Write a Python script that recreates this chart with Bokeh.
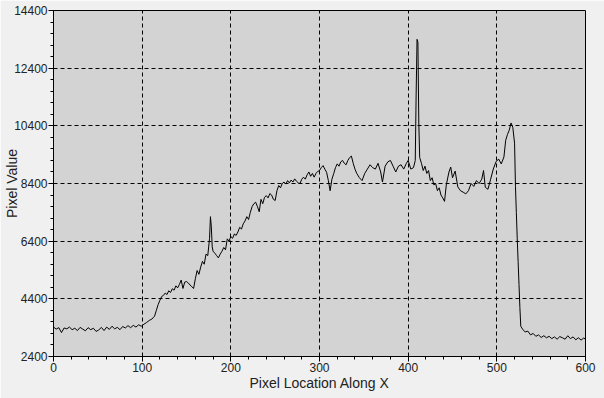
from bokeh.plotting import figure
from bokeh.models import FixedTicker
from bokeh.embed import file_html
from bokeh.resources import INLINE

# Pixel profile along X
pixel_x = [
    0, 3, 6, 9, 12, 15, 18, 21, 24, 27, 30, 33, 36, 39, 42, 45, 48, 51, 54, 57,
    60, 63, 66, 69, 72, 75, 78, 81, 84, 87, 90, 93, 96, 99,
    102, 105, 108, 111, 114, 116, 118,
    120, 122, 124, 126, 128, 130, 132, 134, 136, 138, 140, 142, 144, 146, 148, 150,
    152, 154, 156, 158, 160, 162, 164, 166, 168, 170, 172, 174, 176, 177, 178, 179,
    180, 182, 184, 186, 188, 190, 192, 194, 196, 198, 200, 202, 204, 206, 208, 210,
    212, 214, 216, 218, 220, 222, 224, 226, 228, 230, 232, 234, 236, 238, 240, 242,
    244, 246, 248, 250, 252, 254, 256, 258, 260, 262, 264, 266, 268, 270, 272, 274,
    276, 278, 280, 282, 284, 286, 288, 290, 292, 294, 296, 298, 300, 302, 304, 306,
    308, 310, 312, 314, 316, 318, 320, 322, 324, 326, 328, 330, 332, 334, 336, 338,
    340,
    342, 345, 348, 351, 354, 357, 360, 363, 366, 369, 371, 374, 377, 380, 383, 386,
    389, 392, 395, 398, 400, 403, 406, 408,
    409, 410, 411, 412, 413,
    415, 417, 419, 421, 423, 425, 427, 429, 431, 433, 435, 437, 439, 441,
    443, 446, 448, 450, 453, 456, 459, 462, 465, 468, 471, 474, 477, 480, 483, 485,
    487, 490, 493, 496, 499, 502, 505, 508, 510, 512, 514, 516, 518, 520, 521, 522,
    523, 524, 525, 526, 527, 529, 532, 535, 538, 541, 544, 547, 550, 553, 556, 559,
    562, 565, 568, 571, 574, 577, 580, 583, 586, 589, 592, 595, 598, 600,
]
pixel_value = [
    3420, 3350, 3400, 3230, 3390, 3360, 3420, 3330, 3380, 3300, 3410, 3350, 3290, 3400, 3330, 3380, 3270, 3320, 3410, 3300,
    3420, 3340, 3450, 3360, 3410, 3330, 3440, 3390, 3470, 3400, 3480, 3420, 3500, 3450,
    3520, 3580, 3650, 3700, 3800, 4000, 4200,
    4350, 4480, 4520, 4600, 4550, 4680, 4620, 4750, 4700, 4850, 4780, 4900, 5050, 4760, 4980, 5000,
    4950, 4880, 4820, 4760, 5100, 5380, 5250, 5500, 5700, 5600, 5950, 5900, 6500, 7250, 6900, 6200,
    6050, 5980, 5900, 5820, 5950, 6050, 6180, 6100, 6480, 6400, 6560, 6500, 6650, 6600, 6720, 6880,
    6820, 7000, 7100, 7250, 7150, 7400, 7600, 7700, 7750, 7600, 7420, 7850, 7700, 7920, 7980, 7900,
    8050, 8000, 7850, 7810, 8150, 8330, 8250, 8400, 8450, 8380, 8500, 8420, 8520, 8450, 8560, 8480,
    8420, 8400, 8550, 8620, 8550, 8700, 8800, 8650, 8750, 8620, 8750, 8820, 8850, 8950, 9020, 8900,
    8790, 8500, 8150, 8550, 8740, 8950, 9080, 9000, 9150, 9200, 9100, 9050, 9200, 9300, 9350, 9100,
    8900,
    8750, 8600, 8500, 8750, 8900, 9050, 8950, 8900, 9100, 8800, 8450, 9000, 9150, 9200, 9000, 8800,
    9000, 9050, 8900, 9100, 9200, 8900, 8950, 9200,
    11500, 13400, 13300, 10500, 9300,
    9100, 8850, 9000, 8750, 8850, 8500, 8600, 8350, 8400, 8150, 8250, 8000, 7900, 7780,
    8350, 8800, 8970, 8600, 8830, 8280, 8150, 8100, 8040, 8150, 8400, 8300, 8500, 8400, 8550, 8850,
    8270, 8200, 8550, 8900, 9150, 9250, 9080, 9320, 9900, 10100, 10250, 10500, 10350, 9800, 8300, 7400,
    6500, 5700, 4900, 4100, 3450, 3350, 3250, 3280, 3150, 3200, 3100, 3150, 3060, 3120, 3050, 3100,
    3020, 3080, 3000, 3090, 3050, 3000, 3120, 3020, 3080, 2980, 3050, 2970, 3040, 3000,
]
assert len(pixel_x) == len(pixel_value)

x_major = [0, 100, 200, 300, 400, 500, 600]
y_major = [2400, 4400, 6400, 8400, 10400, 12400, 14400]
x_minor = list(range(0, 601, 20))
y_minor = list(range(2400, 14401, 400))

p = figure(width=604, height=398, output_backend="svg", toolbar_location=None,
           x_range=(0, 600), y_range=(2400, 14400),
           min_border_left=53, min_border_right=19, min_border_top=10, min_border_bottom=42)

p.background_fill_color = "#d3d3d3"
p.border_fill_color = "#f0f0f0"
p.outline_line_color = "black"
p.outline_line_width = 1

p.line(pixel_x, pixel_value, line_color="black", line_width=1)

p.xaxis.ticker = FixedTicker(ticks=x_major, minor_ticks=x_minor)
p.yaxis.ticker = FixedTicker(ticks=y_major, minor_ticks=y_minor)

for ax in (p.xaxis[0], p.yaxis[0]):
    ax.axis_line_color = "black"
    ax.major_tick_line_color = "black"
    ax.minor_tick_line_color = "black"
    ax.major_tick_out = 5
    ax.major_tick_in = 0
    ax.minor_tick_out = 3
    ax.minor_tick_in = 0
    ax.major_label_text_font = "Liberation Sans"
    ax.major_label_text_font_size = "12px"
    ax.major_label_text_color = "#222222"
    ax.major_label_standoff = 1
    ax.axis_label_text_font = "Liberation Sans"
    ax.axis_label_text_font_size = "14px"
    ax.axis_label_text_font_style = "normal"
    ax.axis_label_text_color = "#222222"

p.xaxis.axis_label = "Pixel Location Along X"
p.xaxis.axis_label_standoff = 0
p.yaxis.axis_label = "Pixel Value"
p.yaxis.axis_label_standoff = -9

p.grid.grid_line_color = "black"
p.grid.grid_line_dash = "4 3"
p.grid.grid_line_width = 1
p.grid.grid_line_alpha = 1.0

open("out.html", "w").write(file_html(p, INLINE))
